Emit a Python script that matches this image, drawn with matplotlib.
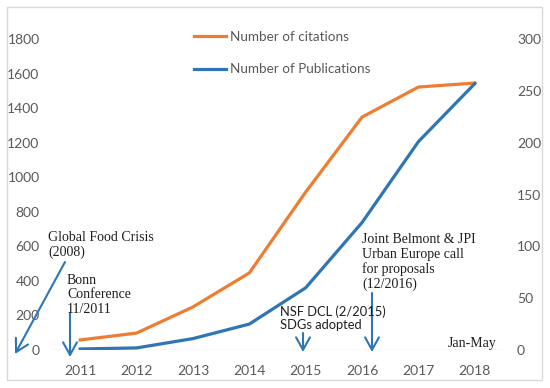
import numpy as np
import matplotlib
matplotlib.use("Agg")
import matplotlib.pyplot as plt
from matplotlib.patches import Rectangle, FancyArrowPatch

years = ["2011", "2012", "2013", "2014", "2015", "2016", "2017", "2018"]
citations = [58, 98, 249, 446, 914, 1348, 1522, 1545]
publications = [1, 2, 11, 25, 60, 123, 201, 257]

ORANGE = "#ED7D31"
BLUE = "#2E75B6"
GRAY = "#595959"
SANS = "Lato"
SERIF = "Liberation Serif"

W, H = 550, 388
fig = plt.figure(figsize=(W / 100, H / 100), dpi=100)

def px(x, y):
    # pixel position -> figure fraction
    return (x / W, 1 - y / H)

ax = fig.add_axes([52 / W, 1 - 350 / H, 451 / W, 311 / H])
ax2 = ax.twinx()

x = np.arange(len(years))
l1, = ax.plot(x, citations, color=ORANGE, lw=2.3, solid_joinstyle="miter",
              label="Number of citations")
l2, = ax2.plot(x, publications, color=BLUE, lw=2.3, solid_joinstyle="miter",
               label="Number of Publications")

ax.set_xlim(-0.5, len(years) - 0.5)
ax.set_ylim(0, 1800)
ax2.set_ylim(0, 300)
ax.set_yticks(range(0, 1801, 200))
ax2.set_yticks(range(0, 301, 50))
ax.set_xticks(x)
ax.set_xticklabels(years)
ax.axhline(0, color="#d9d9d9", lw=1, zorder=0)

for a in (ax, ax2):
    for s in a.spines.values():
        s.set_visible(False)
    a.tick_params(length=0, labelsize=10, labelcolor=GRAY)
    for t in a.get_xticklabels() + a.get_yticklabels():
        t.set_fontfamily(SANS)
ax.tick_params(axis="x", pad=11)
ax.tick_params(axis="y", pad=9)
ax2.tick_params(axis="y", pad=10)

leg = fig.legend(handles=[l1, l2], loc="upper left",
                 bbox_to_anchor=px(182, 19), frameon=False,
                 handlelength=2.4, handletextpad=0.25, labelspacing=1.5,
                 prop={"family": SANS, "size": 9.7})
for t in leg.get_texts():
    t.set_color(GRAY)

# annotations
def note(xp, yp, s, family=SERIF, size=10, **kw):
    fig.text(*px(xp, yp), s, family=family, size=size, color="#1f1f1f",
             va="center", **kw)

def arrow(x0, y0, x1, y1):
    fig.add_artist(FancyArrowPatch(
        px(x0, y0), px(x1, y1), transform=fig.transFigure,
        arrowstyle="->,head_length=9,head_width=5", color=BLUE, lw=1.5,
        shrinkA=0, shrinkB=0))

note(48, 245, "Global Food Crisis\n(2008)", linespacing=1.15)
arrow(65, 262, 15, 354)
note(67, 295, "Bonn\nConference\n11/2011", linespacing=1.15)
arrow(70, 313, 70, 357)
note(280, 318, "NSF DCL (2/2015)\nSDGs adopted", family=SANS, size=9.3,
     linespacing=1.15)
arrow(303, 333, 303, 352)
note(362, 262, "Joint Belmont & JPI\nUrban Europe call\nfor proposals\n(12/2016)",
     linespacing=1.15)
arrow(372, 293, 372, 352)
note(497, 343, "Jan-May", ha="right")

fig.add_artist(Rectangle(px(7, 380), 535 / W, 373 / H, transform=fig.transFigure,
                         fill=False, edgecolor="#d9d9d9", lw=1))

fig.savefig("out.png", dpi=100)
